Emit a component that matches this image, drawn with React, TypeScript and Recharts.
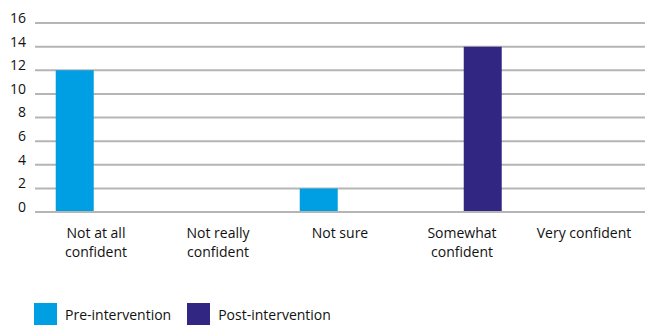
import { Bar, BarChart, CartesianGrid, Legend, XAxis, YAxis } from 'recharts'

const categories = [
  'Not at all confident',
  'Not really confident',
  'Not sure',
  'Somewhat confident',
  'Very confident',
]
const tickLines = [
  ['Not at all', 'confident'],
  ['Not really', 'confident'],
  ['Not sure'],
  ['Somewhat', 'confident'],
  ['Very confident'],
]
const preIntervention = [12, 0, 2, 0, 0]
const postIntervention = [0, 0, 0, 14, 0]
const yTicks = [0, 2, 4, 6, 8, 10, 12, 14, 16]

const data = categories.map((name, i) => ({
  name,
  pre: preIntervention[i],
  post: postIntervention[i],
}))

const FONT = '"Open Sans", sans-serif'
const TEXT = '#111111'
const BLUE = '#009fe3'
const PURPLE = '#312783'
const GRID = '#b5b5b5'

function CategoryTick(props: any) {
  const { x, y, payload } = props
  const lines = tickLines[payload.index] ?? [payload.value]
  return (
    <text x={x} y={y} textAnchor="middle" fill={TEXT} fontSize={14} fontFamily={FONT}>
      {lines.map((l, i) => (
        <tspan key={i} x={x} dy={i === 0 ? 18 : 19}>
          {l}
        </tspan>
      ))}
    </text>
  )
}

function LegendBox() {
  const items = [
    { label: 'Pre-intervention', color: BLUE },
    { label: 'Post-intervention', color: PURPLE },
  ]
  return (
    <div style={{ display: 'flex', alignItems: 'center', paddingLeft: 34, height: 22 }}>
      {items.map((it) => (
        <div key={it.label} style={{ display: 'flex', alignItems: 'center', marginRight: 16 }}>
          <span style={{ width: 23, height: 22, background: it.color, display: 'inline-block' }} />
          <span style={{ marginLeft: 8, fontSize: 14, fontFamily: FONT, color: TEXT }}>{it.label}</span>
        </div>
      ))}
    </div>
  )
}

export default function App() {
  return (
    <div style={{ position: 'absolute', left: 0, top: 0, background: '#fff' }}>
      <BarChart
        width={649}
        height={325}
        data={data}
        margin={{ top: 23, right: 4, left: 0, bottom: 0 }}
        barCategoryGap="17%"
        barGap={4}
      >
        <CartesianGrid horizontal vertical={false} stroke={GRID} strokeWidth={2} />
        <XAxis
          dataKey="name"
          tickLine={false}
          axisLine={{ stroke: GRID, strokeWidth: 2 }}
          tick={<CategoryTick />}
          height={91}
          interval={0}
        />
        <YAxis
          domain={[0, 16]}
          ticks={yTicks}
          width={35}
          tickLine={false}
          axisLine={false}
          tickMargin={3}
          tick={{ fill: TEXT, fontSize: 14, fontFamily: FONT, dy: -5 }}
        />
        <Legend verticalAlign="bottom" align="left" content={() => <LegendBox />} />
        <Bar dataKey="pre" name="Pre-intervention" fill={BLUE} isAnimationActive={false} />
        <Bar dataKey="post" name="Post-intervention" fill={PURPLE} isAnimationActive={false} />
      </BarChart>
    </div>
  )
}
